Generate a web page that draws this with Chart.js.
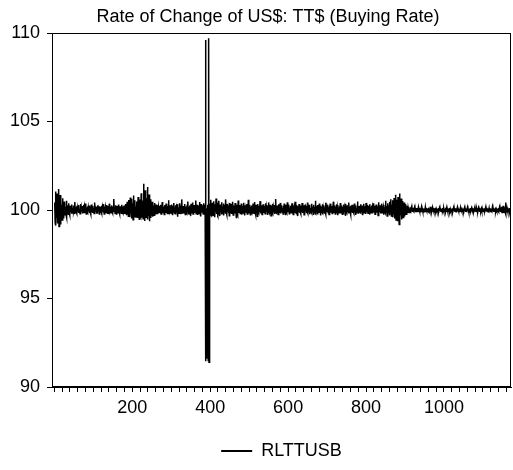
<!DOCTYPE html>
<html>
<head>
<meta charset="utf-8">
<script src="https://cdn.jsdelivr.net/npm/chart.js@4.4.1/dist/chart.umd.min.js"></script>
<style>
  html, body { margin: 0; padding: 0; background: #fff; }
  #chart { display: block; }
</style>
</head>
<body>
<canvas id="chart" width="513" height="470"></canvas>
<script>
const chart_title = "Rate of Change of US$: TT$ (Buying Rate)";
const series_name = "RLTTUSB";
const y_ticks = [90, 95, 100, 105, 110];
const x_labels = [200, 400, 600, 800, 1000];
const first_obs = 1;

const rlttusb = [
100.42,99.31,101.05,99.12,100.78,99.56,100.93,99.24,100.61,99.48,101.18,99.07,100.35,99.62,100.84,99.18,100.57,99.71,100.29,99.44,100.66,99.83,100.21,99.52,100.48,99.69,100.33,99.87,100.19,99.74,
100.52,99.58,100.27,99.81,100.14,99.76,100.38,99.85,100.09,99.72,100.24,99.91,100.17,99.79,100.31,99.88,100.12,99.83,100.26,99.93,100.08,99.77,100.45,99.86,100.15,99.9,100.21,99.81,100.11,99.95,
100.19,99.84,100.28,99.9,100.06,99.79,100.34,99.87,100.13,99.92,100.22,99.8,100.1,99.86,100.29,99.94,100.16,99.82,100.08,99.89,100.37,99.78,100.14,99.91,100.2,99.85,100.12,99.93,100.25,99.83,
100.1,99.88,100.18,99.76,100.31,99.9,100.07,99.84,100.23,99.95,100.13,99.8,100.42,99.87,100.09,99.92,100.19,99.79,100.15,99.89,100.27,99.85,100.06,99.91,100.21,99.73,100.12,99.88,100.17,99.93,
100.24,99.82,100.11,99.9,100.33,99.86,100.08,99.77,100.19,99.93,100.14,99.84,100.28,99.89,100.1,99.81,100.22,99.94,100.16,99.87,100.35,99.79,100.09,99.9,100.18,99.85,100.26,99.92,100.12,99.83,
100.2,99.88,100.62,99.91,100.15,99.8,100.27,99.86,100.1,99.74,100.23,99.9,100.14,99.84,100.31,99.92,100.08,99.79,100.21,99.87,100.17,99.81,100.29,99.93,100.11,99.85,100.19,99.76,100.25,99.89,
100.13,99.82,100.34,99.9,100.18,99.71,100.46,99.84,100.22,99.65,100.57,99.78,100.3,99.6,100.71,99.83,100.25,99.52,100.64,99.7,100.38,99.45,100.82,99.66,100.29,99.58,100.55,99.74,100.19,99.61,
100.48,99.69,100.26,99.55,100.73,99.8,100.35,99.48,100.6,99.72,100.41,99.63,100.95,99.57,100.32,99.76,100.53,99.5,101.48,99.64,100.44,99.38,101.12,99.7,100.37,99.59,100.68,99.81,101.3,99.47,
100.52,99.66,100.88,99.36,100.43,99.73,100.61,99.55,100.29,99.68,100.47,99.62,100.35,99.79,100.26,99.7,100.4,99.84,100.22,99.75,100.31,99.87,100.18,99.8,100.27,99.89,100.14,99.83,100.24,99.91,
100.16,99.85,100.3,99.78,100.12,99.9,100.45,99.82,100.2,99.88,100.11,99.74,100.28,99.92,100.17,99.84,100.36,99.89,100.09,99.8,100.23,99.93,100.55,99.86,100.14,99.77,100.26,99.9,100.19,99.83,
100.31,99.88,100.12,99.71,100.24,99.91,100.4,99.84,100.16,99.79,100.27,99.9,100.1,99.85,100.33,99.62,100.21,99.87,100.15,99.81,100.38,99.92,100.11,99.76,100.25,99.89,100.6,99.83,100.18,99.9,
100.23,99.8,100.13,99.88,100.34,99.75,100.2,99.91,100.09,99.84,100.29,99.87,100.48,99.79,100.17,99.9,100.26,99.82,100.12,99.68,100.35,99.89,100.19,99.85,100.42,99.77,100.14,99.91,100.28,99.83,
100.21,99.88,100.53,99.79,100.16,99.9,100.3,99.72,100.24,99.86,100.12,99.8,100.45,99.89,100.19,99.64,100.33,99.85,100.27,99.9,100.14,99.78,100.38,99.87,100.21,99.8,100.3,109.6,91.45,99.9,
91.6,100.1,99.7,100.3,91.5,109.7,91.4,100.2,100.36,99.84,100.58,99.76,100.22,99.63,100.41,99.88,100.17,99.7,100.49,99.82,100.26,99.59,100.33,99.9,100.65,99.78,100.19,99.86,100.42,99.73,
99.8,100.52,99.87,100.24,99.66,100.31,99.89,100.12,99.75,100.44,99.84,100.2,99.92,100.37,99.69,100.15,99.86,100.29,99.79,100.6,99.88,100.18,99.74,100.33,99.9,100.1,99.82,100.25,99.67,100.4,
99.85,100.21,99.91,100.35,99.78,100.13,99.87,100.47,99.72,100.26,99.9,100.16,99.81,100.39,99.86,100.11,99.58,100.3,99.89,100.2,99.77,100.54,99.84,100.17,99.92,100.28,99.8,100.12,99.87,100.36,
99.74,100.23,99.9,100.15,99.83,100.41,99.88,100.19,99.69,100.27,99.85,100.1,99.91,100.33,99.78,100.22,99.86,100.58,99.81,100.14,99.89,100.3,99.73,100.18,99.9,100.25,99.84,100.12,99.79,100.37,
99.88,100.2,99.82,100.45,99.91,100.13,99.76,100.29,99.87,100.17,99.64,100.34,99.89,100.11,99.83,100.24,99.9,100.5,99.8,100.19,99.86,100.27,99.75,100.15,99.92,100.32,99.84,100.1,99.88,100.22,
99.79,100.38,99.86,100.14,99.9,100.26,99.72,100.19,99.85,100.43,99.89,100.12,99.81,100.3,99.87,100.17,99.68,100.24,99.91,100.35,99.83,100.11,99.88,100.28,99.77,100.2,99.9,100.62,99.85,100.16,
99.82,100.25,99.89,100.13,99.74,100.33,99.87,100.19,99.91,100.4,99.8,100.15,99.86,100.27,99.9,100.1,99.78,100.22,99.88,100.36,99.84,100.17,99.7,100.29,99.9,100.12,99.83,100.44,99.87,100.2,
99.91,100.31,99.79,100.14,99.86,100.24,99.9,100.09,99.81,100.38,99.88,100.18,99.75,100.26,99.89,100.13,99.84,100.47,99.9,100.16,99.8,100.28,99.87,100.11,99.66,100.21,99.91,100.34,99.85,100.15,
99.88,100.25,99.78,100.12,99.9,100.39,99.84,100.18,99.89,100.27,99.73,100.14,99.87,100.31,99.91,100.1,99.82,100.22,99.88,100.43,99.8,100.16,99.9,100.29,99.76,100.19,99.86,100.12,99.91,100.35,
99.83,100.2,99.88,100.14,99.72,100.3,99.9,100.17,99.85,100.52,99.8,100.24,99.89,100.11,99.79,100.28,99.87,100.15,99.91,100.37,99.84,100.13,99.69,100.25,99.9,100.18,99.86,100.32,99.81,100.12,
99.89,100.27,99.83,100.16,99.9,100.41,99.77,100.2,99.87,100.12,99.91,100.3,99.84,100.15,99.74,100.24,99.89,100.36,99.85,100.11,99.9,100.22,99.8,100.17,99.88,100.46,99.83,100.14,99.9,100.26,
99.78,100.19,99.88,100.33,99.86,100.12,99.71,100.28,99.9,100.15,99.84,100.21,99.89,100.39,99.81,100.13,99.87,100.25,99.76,100.17,99.91,100.31,99.85,100.1,99.88,100.23,99.67,100.35,99.9,100.16,
99.84,100.27,99.89,100.12,99.8,100.42,99.87,100.18,99.91,100.24,99.75,100.14,99.88,100.3,99.84,100.11,99.9,100.2,99.82,100.37,99.87,100.15,99.72,100.26,99.9,100.13,99.85,100.48,99.88,100.19,
99.79,100.23,99.9,100.11,99.86,100.32,99.83,100.16,99.89,100.25,99.7,100.14,99.91,100.35,99.85,100.12,99.88,100.21,99.78,100.4,99.87,100.17,99.9,100.28,99.82,100.13,99.89,100.22,99.74,100.33,
99.88,100.15,99.84,100.26,99.91,100.12,99.8,100.38,99.87,100.19,99.9,100.24,99.76,100.14,99.88,100.31,99.85,100.1,99.9,100.21,99.69,100.44,99.86,100.17,99.89,100.27,99.81,100.13,99.9,100.36,
99.84,100.2,99.88,100.12,99.73,100.29,99.9,100.16,99.85,100.52,99.78,100.23,99.89,100.14,99.62,100.38,99.86,100.25,99.91,100.47,99.7,100.18,99.84,100.61,99.66,100.3,99.88,100.55,99.59,100.22,
99.75,100.68,99.52,100.34,99.81,100.86,99.43,100.27,99.69,100.58,99.36,100.74,99.62,100.41,99.18,100.93,99.55,100.32,99.71,100.65,99.47,100.26,99.8,100.51,99.58,100.18,99.83,100.42,99.64,100.2,
99.87,100.33,99.76,100.14,99.9,100.24,99.82,100.11,99.92,100.18,99.86,100.09,99.91,100.15,99.88,100.07,99.93,100.12,99.89,100.06,99.94,100.13,99.9,100.08,99.92,100.1,99.88,100.05,99.93,100.11,
99.91,100.07,99.94,100.12,99.89,100.06,99.93,100.1,99.9,100.05,99.95,100.13,99.91,100.08,99.93,100.11,99.88,100.06,99.94,100.09,99.92,100.14,99.9,100.05,99.95,100.1,99.91,100.07,99.93,100.12,
99.89,100.06,99.94,100.09,99.92,100.18,99.9,100.07,99.95,100.11,99.91,100.05,99.93,100.1,99.88,100.08,99.94,100.13,99.91,100.06,99.93,100.09,99.9,100.05,99.94,100.12,99.92,100.07,99.95,100.1,
99.91,100.08,99.93,100.06,99.9,100.11,99.94,100.05,99.92,100.09,99.95,100.07,99.91,100.13,99.93,100.06,99.89,100.1,99.94,100.05,99.92,100.08,99.95,100.11,99.91,100.06,99.93,100.09,99.9,100.05,
99.94,100.1,99.92,100.07,99.95,100.12,99.91,100.06,99.93,100.09,99.9,100.05,99.94,100.11,99.92,100.07,99.95,100.08,99.91,100.06,99.93,100.1,99.89,100.05,99.94,100.13,99.92,100.07,99.95,100.09,
99.91,100.06,99.93,100.1,99.9,100.05,99.94,100.08,99.92,100.11,99.95,100.07,99.91,100.06,99.93,100.09,99.88,100.12,99.94,100.05,99.92,100.08,99.95,100.1,99.91,100.07,99.93,100.06,99.9,100.11,
99.94,100.08,99.92,100.05,99.95,100.1,99.91,100.07,99.93,100.06,99.89,100.12,99.94,100.09,99.92,100.05,99.95,100.08,99.91,100.11,99.93,100.06,99.9,100.1,99.94,100.07,99.92,100.13,99.95,100.06,
99.91,100.09,99.93,100.05,99.9,100.11,99.94,100.07,99.92,100.08,99.95,100.06,99.91,100.12,99.93,100.1,99.89,100.05,99.94,100.08,99.92,100.14,99.9,100.06,99.95,100.09,99.91,100.07,99.93,100.11,
99.88,100.08,99.94,100.12,99.9,100.06,99.92,100.18,99.86,100.1,99.93,100.24,99.84,100.2,99.9,100.15,99.87,100.42,99.76,100.2,99.87,100.09,99.93,100.13,99.9,100.07,99.94,100.11,99.91,100.06
];

const font_family = "'Liberation Sans', Arial, sans-serif";
Chart.defaults.font.family = font_family;
Chart.defaults.font.size = 18;
Chart.defaults.color = "#000";

// build the point table from the observation array
const points = rlttusb.map((v, i) => ({ x: first_obs + i, y: v }));

// frame round the plot + title placed over the plot like the original
const frameAndTitle = {
    id: "frameAndTitle",
    afterDraw(chart) {
        const { ctx, chartArea } = chart;
        ctx.save();
        ctx.strokeStyle = "#000";
        ctx.lineWidth = 1;
        ctx.strokeRect(chartArea.left + 0.5, chartArea.top + 0.5,
            chartArea.right - chartArea.left - 1, chartArea.bottom - chartArea.top - 1);
        ctx.fillStyle = "#000";
        ctx.font = "18px " + font_family;
        ctx.textAlign = "center";
        ctx.textBaseline = "middle";
        ctx.fillText(chart_title, 268, 17);
        ctx.restore();
    }
};

const ctx = document.getElementById("chart").getContext("2d");
new Chart(ctx, {
    type: "line",
    data: {
        datasets: [{
            label: series_name,
            data: points,
            borderColor: "#000",
            backgroundColor: "#000",
            borderWidth: 1.5,
            pointRadius: 0,
            tension: 0,
            fill: false
        }]
    },
    options: {
        responsive: false,
        animation: false,
        parsing: false,
        normalized: true,
        layout: {
            padding: { top: 33, right: 2, left: 0, bottom: 0 }
        },
        plugins: {
            title: { display: false },
            tooltip: { enabled: false },
            legend: {
                position: "bottom",
                fullSize: false,
                labels: {
                    usePointStyle: true,
                    pointStyle: "line",
                    pointStyleWidth: 31,
                    padding: 3,
                    color: "#000",
                    font: { size: 18 },
                    generateLabels(chart) {
                        const items = Chart.defaults.plugins.legend.labels.generateLabels(chart);
                        items.forEach(it => { it.lineWidth = 2; it.strokeStyle = "#000"; });
                        return items;
                    }
                }
            }
        },
        scales: {
            x: {
                type: "linear",
                min: -6,
                max: 1172,
                afterFit(scale) { scale.height = 52; },
                grid: {
                    drawOnChartArea: false,
                    drawTicks: true,
                    tickLength: 5,
                    color: "#000"
                },
                border: { display: true, color: "#000" },
                ticks: {
                    stepSize: 20,
                    includeBounds: false,
                    autoSkip: false,
                    maxRotation: 0,
                    padding: 5,
                    callback: (v) => x_labels.includes(v) ? String(v) : ""
                }
            },
            y: {
                min: y_ticks[0],
                max: y_ticks[y_ticks.length - 1],
                afterFit(scale) { scale.width = 52; },
                afterBuildTicks(scale) { scale.ticks = y_ticks.map(v => ({ value: v })); },
                grid: {
                    drawOnChartArea: false,
                    drawTicks: true,
                    tickLength: 5,
                    color: "#000"
                },
                border: { display: true, color: "#000" },
                ticks: {
                    padding: 7,
                    callback: (v) => String(v)
                }
            }
        }
    },
    plugins: [frameAndTitle]
});
</script>
</body>
</html>
